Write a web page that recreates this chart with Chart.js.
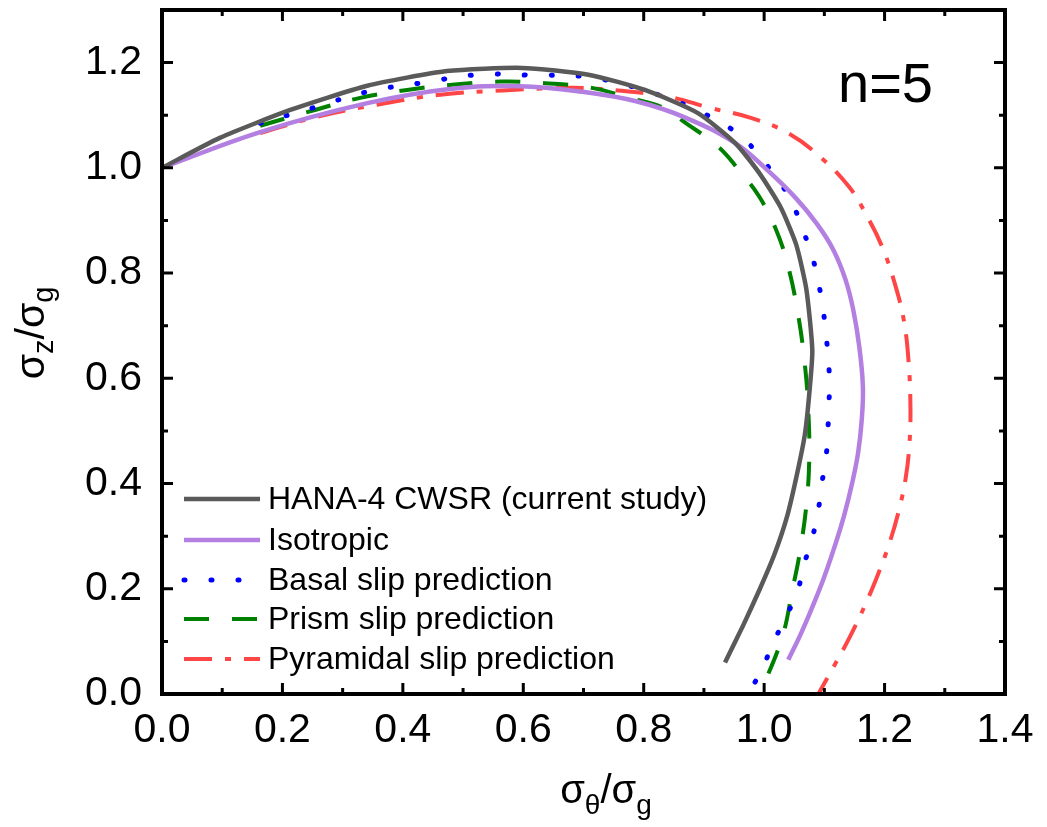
<!DOCTYPE html>
<html>
<head>
<meta charset="utf-8">
<script src="https://cdn.jsdelivr.net/npm/chart.js@4.4.1/dist/chart.umd.min.js"></script>
<style>
  html, body { margin: 0; background: #fff; }
</style>
</head>
<body>
<canvas id="myChart" width="1047" height="827"></canvas>
<script>
const FONT = '"Liberation Sans", Arial, sans-serif';

// axis ticks
const xTicks = [0, 0.2, 0.4, 0.6, 0.8, 1.0, 1.2, 1.4];
const yTicks = [0, 0.2, 0.4, 0.6, 0.8, 1.0, 1.2];

// HANA-4 CWSR (current study)
const hanaX = [0, 0.096, 0.213, 0.341, 0.473, 0.598, 0.708, 0.802, 0.890, 0.952, 0.992, 1.027, 1.053, 1.070, 1.080, 1.076, 1.068, 1.055, 1.038, 1.017, 0.993, 0.965, 0.935];
const hanaY = [1.0, 1.057, 1.110, 1.156, 1.184, 1.190, 1.177, 1.148, 1.104, 1.047, 0.990, 0.926, 0.855, 0.770, 0.654, 0.584, 0.496, 0.420, 0.337, 0.265, 0.200, 0.130, 0.060];

// Isotropic
const isoX = [0, 0.163, 0.341, 0.478, 0.594, 0.694, 0.789, 0.870, 0.952, 1.005, 1.053, 1.088, 1.115, 1.135, 1.148, 1.158, 1.164, 1.162, 1.156, 1.146, 1.133, 1.117, 1.099, 1.080, 1.060, 1.040];
const isoY = [1.0, 1.068, 1.123, 1.150, 1.155, 1.145, 1.126, 1.095, 1.047, 0.996, 0.942, 0.893, 0.844, 0.788, 0.730, 0.660, 0.584, 0.520, 0.458, 0.400, 0.340, 0.280, 0.220, 0.165, 0.112, 0.065];

// Basal slip prediction
const basalX = [0.163, 0.251, 0.342, 0.434, 0.525, 0.616, 0.711, 0.802, 0.887, 0.962, 1.023, 1.047, 1.065, 1.080, 1.090, 1.098, 1.104, 1.108, 1.108, 1.106, 1.103, 1.096, 1.090, 1.080, 1.066, 1.055, 1.035, 1.015, 0.997, 0.974];
const basalY = [1.085, 1.114, 1.145, 1.162, 1.177, 1.176, 1.172, 1.147, 1.110, 1.059, 0.977, 0.932, 0.880, 0.831, 0.783, 0.730, 0.670, 0.612, 0.559, 0.506, 0.452, 0.401, 0.350, 0.297, 0.245, 0.194, 0.144, 0.097, 0.049, 0.0];

// Prism slip prediction
const prismX = [0.163, 0.254, 0.329, 0.407, 0.482, 0.563, 0.636, 0.714, 0.776, 0.829, 0.870, 0.924, 0.958, 0.992, 1.020, 1.040, 1.057, 1.068, 1.073, 1.075, 1.071, 1.060, 1.047, 1.030, 0.993];
const prismY = [1.080, 1.110, 1.133, 1.148, 1.158, 1.164, 1.161, 1.152, 1.133, 1.116, 1.085, 1.040, 0.996, 0.945, 0.882, 0.812, 0.717, 0.622, 0.546, 0.455, 0.369, 0.274, 0.198, 0.108, 0.0];

// Pyramidal slip prediction
const pyrX = [0.163, 0.257, 0.357, 0.462, 0.566, 0.679, 0.748, 0.842, 0.910, 0.978, 1.040, 1.093, 1.141, 1.170, 1.196, 1.217, 1.232, 1.240, 1.243, 1.241, 1.235, 1.224, 1.209, 1.190, 1.168, 1.143, 1.117, 1.090];
const pyrY = [1.066, 1.097, 1.120, 1.139, 1.147, 1.152, 1.148, 1.135, 1.114, 1.095, 1.066, 1.021, 0.964, 0.910, 0.850, 0.780, 0.710, 0.630, 0.540, 0.470, 0.410, 0.350, 0.290, 0.230, 0.170, 0.110, 0.055, 0.0];

const labels = ['HANA-4 CWSR (current study)', 'Isotropic', 'Basal slip prediction', 'Prism slip prediction', 'Pyramidal slip prediction'];

function pts(xs, ys) {
  return xs.map((x, i) => ({ x: x, y: ys[i] }));
}

const datasets = [
  { label: labels[0], data: pts(hanaX, hanaY), borderColor: '#5a5a5a', borderWidth: 4.5, tension: 0.2 },
  { label: labels[1], data: pts(isoX, isoY), borderColor: '#b37fe0', borderWidth: 4.5, tension: 0.4 },
  { label: labels[2], data: pts(basalX, basalY), borderColor: '#0000ff', borderWidth: 5, borderDash: [1, 26], borderCapStyle: 'round', tension: 0.4 },
  { label: labels[3], data: pts(prismX, prismY), borderColor: '#008000', borderWidth: 4, borderDash: [25, 23], tension: 0.4 },
  { label: labels[4], data: pts(pyrX, pyrY), borderColor: '#ff4646', borderWidth: 4, borderDash: [28, 13, 6, 13], tension: 0.4 }
];
datasets.forEach(d => { d.showLine = true; d.pointRadius = 0; d.fill = false; });

// frame and inward ticks on all four sides
const framePlugin = {
  id: 'frame',
  afterDatasetsDraw(chart) {
    const { ctx, chartArea: a, scales } = chart;
    ctx.save();
    ctx.strokeStyle = '#000';
    ctx.lineWidth = 3;
    for (let i = 0; i <= 14; i++) {
      const v = i / 10;
      const px = scales.x.getPixelForValue(v);
      const len = i % 2 === 0 ? 11 : 6;
      ctx.beginPath();
      ctx.moveTo(px, a.bottom); ctx.lineTo(px, a.bottom - len);
      ctx.moveTo(px, a.top); ctx.lineTo(px, a.top + len);
      ctx.stroke();
    }
    for (let i = 0; i <= 13; i++) {
      const v = i / 10;
      const py = scales.y.getPixelForValue(v);
      const len = i % 2 === 0 ? 11 : 6;
      ctx.beginPath();
      ctx.moveTo(a.left, py); ctx.lineTo(a.left + len, py);
      ctx.moveTo(a.right, py); ctx.lineTo(a.right - len, py);
      ctx.stroke();
    }
    ctx.lineWidth = 4;
    ctx.strokeRect(a.left, a.top, a.right - a.left, a.bottom - a.top);
    ctx.restore();
  }
};

// draw a label with subscripts: parts = [[text, isSub], ...]
function drawSubText(ctx, parts, size, subSize, shift) {
  let w = 0;
  parts.forEach(p => {
    ctx.font = (p[1] ? subSize : size) + 'px ' + FONT;
    w += ctx.measureText(p[0]).width;
  });
  let x = -w / 2;
  parts.forEach(p => {
    ctx.font = (p[1] ? subSize : size) + 'px ' + FONT;
    ctx.fillText(p[0], x, p[1] ? shift : 0);
    x += ctx.measureText(p[0]).width;
  });
}

const textPlugin = {
  id: 'texts',
  afterDraw(chart) {
    const { ctx } = chart;
    ctx.save();
    ctx.fillStyle = '#000';
    ctx.textBaseline = 'alphabetic';
    ctx.textAlign = 'left';

    // x title
    ctx.save();
    ctx.translate(606, 803);
    drawSubText(ctx, [['σ', false], ['θ', true], ['/σ', false], ['g', true]], 40, 28, 11);
    ctx.restore();

    // y title
    ctx.save();
    ctx.translate(44, 333);
    ctx.rotate(-Math.PI / 2);
    drawSubText(ctx, [['σ', false], ['z', true], ['/σ', false], ['g', true]], 41, 29, 9);
    ctx.restore();

    // n=5
    ctx.font = '56px ' + FONT;
    ctx.fillText('n=5', 838, 102);

    // legend
    const rows = [499, 540, 580, 619, 659];
    chart.data.datasets.forEach((d, i) => {
      const y = rows[i];
      ctx.save();
      ctx.strokeStyle = d.borderColor;
      ctx.lineWidth = d.borderWidth;
      ctx.lineCap = d.borderCapStyle || 'butt';
      ctx.setLineDash(d.borderDash || []);
      ctx.beginPath();
      ctx.moveTo(184, y); ctx.lineTo(260, y);
      ctx.stroke();
      ctx.restore();
      ctx.font = '32px ' + FONT;
      ctx.textBaseline = 'middle';
      ctx.fillText(d.label, 268, y + 1);
    });
    ctx.restore();
  }
};

new Chart(document.getElementById('myChart'), {
  type: 'scatter',
  data: { datasets: datasets },
  options: {
    responsive: false,
    animation: false,
    layout: { padding: { top: 10, right: 42, left: 0, bottom: 0 } },
    plugins: { legend: { display: false }, tooltip: { enabled: false } },
    scales: {
      x: {
        type: 'linear', min: 0, max: 1.4,
        afterBuildTicks: s => { s.ticks = xTicks.map(v => ({ value: v })); },
        afterFit: s => { s.height = 133; s.paddingLeft = 0; s.paddingRight = 0; },
        grid: { display: false, drawTicks: false },
        border: { display: false },
        ticks: { color: '#000', font: { size: 41, family: FONT }, padding: 12, maxRotation: 0, autoSkip: false, callback: v => v.toFixed(1) }
      },
      y: {
        type: 'linear', min: 0, max: 1.3,
        afterBuildTicks: s => { s.ticks = yTicks.map(v => ({ value: v })); },
        afterFit: s => { s.width = 162; s.paddingTop = 0; s.paddingBottom = 0; },
        grid: { display: false, drawTicks: false },
        border: { display: false },
        ticks: { color: '#000', font: { size: 41, family: FONT }, padding: 20, autoSkip: false, callback: v => v.toFixed(1) }
      }
    }
  },
  plugins: [framePlugin, textPlugin]
});
</script>
</body>
</html>
